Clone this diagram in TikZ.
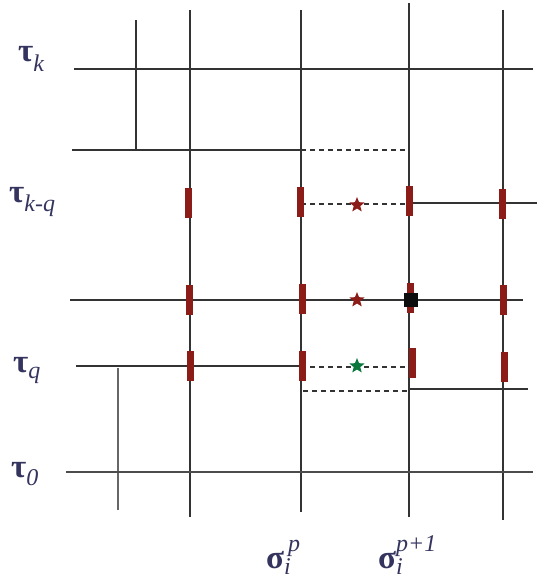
\documentclass[tikz,border=0pt]{standalone}
\usepackage{fontspec}
\setmainfont{Liberation Serif}
\usetikzlibrary{shapes.geometric}
\definecolor{lab}{RGB}{52,52,95}
\definecolor{barred}{RGB}{140,28,24}
\definecolor{stargreen}{RGB}{10,120,60}
\newcommand{\bigf}{\fontsize{33}{33}\selectfont}
\newcommand{\smallf}{\fontsize{24}{24}\selectfont\itshape}
\begin{document}
\begin{tikzpicture}[x=1pt,y=-1pt,
  gridline/.style={draw=black!80,line width=1.1pt},
  dashline/.style={draw=black!80,line width=1.1pt,dash pattern=on 5pt off 4pt},
  redbar/.style={fill=barred,draw=none,minimum width=7pt,minimum height=30pt,inner sep=0pt},
  starmark/.style={star,star points=5,star point ratio=2.3,minimum size=16pt,inner sep=0pt,draw=none},
  sqmark/.style={fill=black!95,draw=none,minimum size=14pt,inner sep=0pt},
  lbl/.style={text=lab,inner sep=0pt,anchor=base west}]
\useasboundingbox (0,0) rectangle (537,580);
% vertical lines
\draw[gridline] (136,20) -- (136,150);
\draw[gridline] (190,10) -- (190,517);
\draw[gridline] (301,10) -- (301,512);
\draw[gridline] (409,3) -- (409,517);
\draw[gridline] (503,10) -- (503,520);
\draw[gridline,draw=black!60] (118,368) -- (118,510);
% horizontal lines
\draw[gridline] (74,69) -- (533,69);
\draw[gridline] (72,150) -- (301,150);
\draw[dashline] (301,150) -- (405,150);
\draw[dashline] (301,204) -- (409,204);
\draw[gridline] (409,203) -- (537,203);
\draw[gridline] (70,300) -- (523,300);
\draw[gridline] (76,366) -- (301,366);
\draw[dashline] (301,367) -- (409,367);
\draw[dashline] (303,391) -- (409,391);
\draw[gridline] (409,389) -- (528,389);
\draw[gridline,draw=black!70] (66,472) -- (533,472);
% red bars
\node[redbar] (b11) at (188,203) {};
\node[redbar] (b12) at (189,300) {};
\node[redbar] (b13) at (190,366) {};
\node[redbar] (b21) at (300,202) {};
\node[redbar] (b22) at (302,299) {};
\node[redbar] (b23) at (302,366) {};
\node[redbar] (b31) at (409,201) {};
\node[redbar] (b32) at (410,298) {};
\node[redbar] (b33) at (412,363) {};
\node[redbar] (b41) at (502,204) {};
\node[redbar] (b42) at (503,300) {};
\node[redbar] (b43) at (504,367) {};
% stars and square
\node[starmark,fill=barred] (s1) at (357,205) {};
\node[starmark,fill=barred] (s2) at (357,300) {};
\node[starmark,fill=stargreen] (s3) at (357,366) {};
\node[sqmark] (sq) at (411,300) {};
% labels
\node[lbl] (tk) at (18,62) {\bigf\textbf{τ}\raisebox{-10pt}{\smallf k}};
\node[lbl] (tkq) at (9,202) {\bigf\textbf{τ}\raisebox{-9pt}{\smallf k-q}};
\node[lbl] (tq) at (13,372) {\bigf\textbf{τ}\raisebox{-6pt}{\smallf q}};
\node[lbl] (t0) at (11,477) {\bigf\textbf{τ}\raisebox{-8pt}{\smallf 0}};
\node[lbl] (sp) at (266,568) {\bigf\textbf{σ}\rlap{\raisebox{-6pt}{\smallf i}}\raisebox{17pt}{\smallf \,p}};
\node[lbl] (sp1) at (378,568) {\bigf\textbf{σ}\rlap{\raisebox{-6pt}{\smallf i}}\raisebox{17pt}{\smallf p+1}};
\end{tikzpicture}
\end{document}
